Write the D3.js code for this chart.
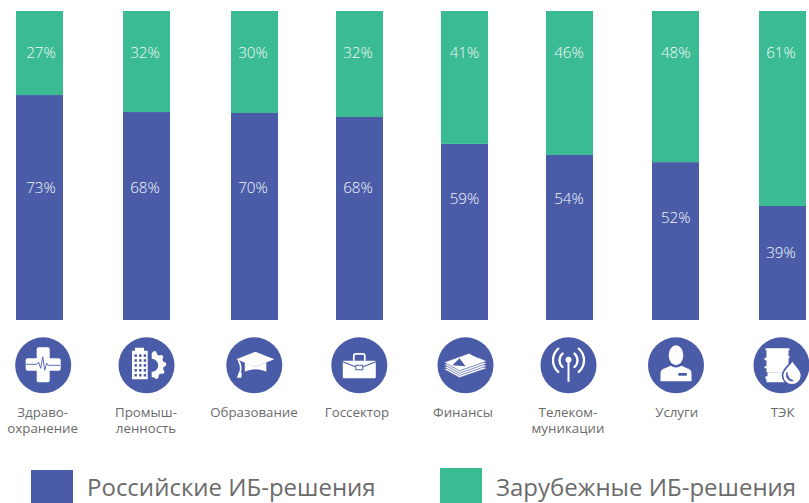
<!DOCTYPE html>
<html lang="ru">
<head>
<meta charset="utf-8">
<script src="https://cdn.jsdelivr.net/npm/d3@7"></script>
<style>
html,body{margin:0;padding:0;background:#fff}
svg{display:block;font-family:"Open Sans",sans-serif}
</style>
</head>
<body>
<svg id="c" width="809" height="503"></svg>
<script>
// Categories (each line of the wrapped label)
const categories = ["health","industry","education","gov","finance","telecom","services","energy"];
const categoryLines = [["Здраво-","охранение"],["Промыш-","ленность"],["Образование"],["Госсектор"],["Финансы"],["Телеком-","муникации"],["Услуги"],["ТЭК"]];
// Bar heights as drawn in the picture (share of the bar, %)
const russianHeights = [72.8,67.3,67.0,65.7,57.0,53.4,51.1,36.9];
const foreignHeights = [27.2,32.7,33.0,34.3,43.0,46.6,48.9,63.1];
// Printed values
const russianLabels = [73,68,70,68,59,54,52,39];
const foreignLabels = [27,32,30,32,41,46,48,61];
const seriesNames = ["Российские ИБ-решения","Зарубежные ИБ-решения"];

const BLUE="#4a5ca8", GREEN="#3bbb93", TEXT="#6b6b6b", W="#ffffff";

// Layout scales
const barLeft = d3.scaleOrdinal().domain(categories).range([16,123,231,336,441,546,652,759]);
const barW = 47;
const valueX = d3.scaleOrdinal().domain(categories).range([41,145,253,358,464.5,569,675.7,781]);
const russianLabelY = d3.scaleOrdinal().domain(categories).range([187,187,187,187,198,198,217,252]);
const foreignLabelY = 51.5;
const iconX = d3.scaleOrdinal().domain(categories).range([43.2,146.5,254.3,359.3,465.5,568.5,676,781.5]);
const iconY = 365.3, iconR = 28;
const nameX = d3.scaleOrdinal().domain(categories).range([42.7,146,254,357,463,568,676.7,782.7]);
const y = d3.scaleLinear().domain([0,100]).range([320,11]);

const svg = d3.select("#c");
const rows = categories.map((c,i)=>({c,ru:russianHeights[i],fo:foreignHeights[i]}));
const stacked = d3.stack().keys(["ru","fo"])(rows);
const color = d3.scaleOrdinal().domain(["ru","fo"]).range([BLUE,GREEN]);

svg.append("g").selectAll("g").data(stacked).join("g").attr("fill",d=>color(d.key))
  .selectAll("rect").data(d=>d).join("rect")
  .attr("x",d=>barLeft(d.data.c)).attr("width",barW)
  .attr("y",d=>y(d[1])).attr("height",d=>y(d[0])-y(d[1]));

const valText = (sel)=>sel.attr("text-anchor","middle").attr("dominant-baseline","central")
  .attr("font-size",15.2).attr("font-weight",300).attr("fill","#f4f8fa");
svg.append("g").selectAll("text").data(categories).join("text").call(valText)
  .attr("x",c=>valueX(c)).attr("y",c=>russianLabelY(c))
  .text((c,i)=>russianLabels[i]+"%");
svg.append("g").selectAll("text").data(categories).join("text").call(valText)
  .attr("x",c=>valueX(c)).attr("y",foreignLabelY)
  .text((c,i)=>foreignLabels[i]+"%");

// Category names
const nm = svg.append("g").attr("fill",TEXT).attr("font-size",13.3).attr("text-anchor","middle")
  .selectAll("text").data(categories).join("text").attr("y",417);
nm.selectAll("tspan").data((c,i)=>categoryLines[i].map(t=>({t,c}))).join("tspan")
  .attr("x",d=>nameX(d.c)).attr("dy",(d,i)=>i?16:0).text(d=>d.t);

// Icons, drawn around the circle centre
function gearPath(r,ri,teeth){
  let p=[];
  const n=teeth*4;
  for(let k=0;k<=n;k++){
    const a=-Math.PI/2+Math.PI*k/n;
    const rr=(k%4===1||k%4===2)?r:ri;
    p.push([rr*Math.cos(a),rr*Math.sin(a)]);
  }
  return p;
}
const icons = {
  health(g){
    g.append("rect").attr("x",-6.5).attr("y",-18).attr("width",13).attr("height",35).attr("rx",2).attr("fill",W);
    g.append("rect").attr("x",-17.5).attr("y",-7).attr("width",35).attr("height",12.5).attr("rx",2).attr("fill",W);
    g.append("path").attr("d","M-17,-1H-6.5L-4.5,-3L-2.5,3L-0.5,-8.5L1.5,5L3.5,-2L5,0H6.5H17").attr("fill","none").attr("stroke",BLUE).attr("stroke-width",0.9);
  },
  industry(g){
    g.append("path").attr("d","M-14.5,14V-14.5H-11.5V-17.5H-2.5V-14.5H1.2V14Z").attr("fill",W);
    for(let r=0;r<5;r++)for(let c=0;c<3;c++)
      g.append("rect").attr("x",-12+c*4.6).attr("y",-11+r*4.9).attr("width",2.4).attr("height",2.6).attr("fill",BLUE);
    const pts=gearPath(14.5,12,5);
    g.append("path").attr("d",d3.line()(pts)+"L0,6.5A6.5,6.5 0 0 0 0,-6.5Z").attr("transform","translate(5.2,0)").attr("fill",W);
  },
  education(g){
    g.append("path").attr("d","M-9.5,-3V6.5C-3,3 6,3 12,6.5V-3L1,1.5Z").attr("fill",W);
    g.append("path").attr("d","M-18,-6L1,-13.5L20,-6L1,1.5Z").attr("fill",W);
    g.append("path").attr("d","M-16,-5C-14,-2 -13,2 -14,7").attr("fill","none").attr("stroke",W).attr("stroke-width",1.6);
    g.append("path").attr("d","M-15,6L-12.5,8L-13,12.5L-17.5,12.5Z").attr("fill",W);
  },
  gov(g){
    g.append("rect").attr("x",-16.5).attr("y",-4.5).attr("width",33).attr("height",17.5).attr("rx",1).attr("fill",W);
    g.append("path").attr("d","M-5.5,-4.5V-9.5Q-5.5,-11.5 -3.5,-11.5H3.5Q5.5,-11.5 5.5,-9.5V-4.5").attr("fill","none").attr("stroke",W).attr("stroke-width",1.8);
    g.append("path").attr("d","M-16.5,-3.5L-4,1.5M16.5,-3.5L4,1.5").attr("stroke",BLUE).attr("stroke-width",1.1);
    g.append("rect").attr("x",-3.5).attr("y",0).attr("width",7).attr("height",4.5).attr("fill",W).attr("stroke",BLUE).attr("stroke-width",1);
  },
  finance(g){
    [6.9,4.6,2.3,0].forEach(d=>{
      g.append("path").attr("d",`M-21.5,${-3+d}L3.5,${-12+d}L21.5,${-4+d}L-6,${5.5+d}Z`)
        .attr("fill",W).attr("stroke",BLUE).attr("stroke-width",0.7);
    });
    g.append("path").attr("d","M-13,0L-6,-7L0,1Z").attr("fill",BLUE);
    g.append("path").attr("d","M5,-11L11,-12L13,-7Z").attr("fill",BLUE);
  },
  telecom(g){
    g.append("line").attr("y1",-6).attr("y2",16.5).attr("stroke",W).attr("stroke-width",2);
    g.append("circle").attr("cy",-5.5).attr("r",3).attr("fill",W);
    const arc=(r,s)=>{const a=0.85;return `M${s*r*Math.cos(a)},${-5-r*Math.sin(a)}A${r},${r} 0 0 ${s>0?1:0} ${s*r*Math.cos(a)},${-5+r*Math.sin(a)}`;};
    [-1,1].forEach(s=>{
      g.append("path").attr("d",arc(9,s)).attr("fill","none").attr("stroke",W).attr("stroke-width",2.3).attr("stroke-linecap","round");
      g.append("path").attr("d",arc(15.5,s)).attr("fill","none").attr("stroke",W).attr("stroke-width",2.3).attr("stroke-linecap","round");
    });
  },
  services(g){
    g.append("ellipse").attr("cy",-10).attr("rx",7.3).attr("ry",10).attr("fill",W);
    g.append("path").attr("d","M-15.5,16V8Q-15.5,4 -11,3L-5.5,0.5Q0,4 5.5,0.5L11,3Q15.5,4 15.5,8V16Z").attr("fill",W);
    g.append("rect").attr("x",2.3).attr("y",7.7).attr("width",8.5).attr("height",2.7).attr("fill",BLUE);
  },
  energy(g){
    g.append("path").attr("d","M-16,-17H8V-15H7V-9H8V-7H7V7H-15V3H-17V1H-15V-5H-17V-7.5H-15V-15H-16Z").attr("fill",W);
    g.append("path").attr("d","M-16,14V11H-14V7H4V17H-15V14Z").attr("fill",W);
    g.append("path").attr("d","M11,-5C13,0 20,4 20,10A9.5,9.5 0 0 1 1,10C1,4 8,0 11,-5Z").attr("fill",W).attr("stroke",BLUE).attr("stroke-width",1.6);
    g.append("path").attr("d","M5.5,7C3.5,12 7,16.5 12,15.5C8,14.5 6,11 5.5,7Z").attr("fill",BLUE).attr("stroke",BLUE).attr("stroke-width",0.8);
  }
};
const iconG = svg.append("g").selectAll("g").data(categories).join("g")
  .attr("transform",c=>`translate(${iconX(c)},${iconY})`);
iconG.append("circle").attr("r",iconR).attr("fill",BLUE);
iconG.each(function(c){icons[c](d3.select(this));});

// Legend
const legendX = d3.scaleOrdinal().domain(seriesNames).range([31,440]);
const legendTop = d3.scaleOrdinal().domain(seriesNames).range([470,468]);
const lg = svg.append("g").selectAll("g").data(seriesNames).join("g");
lg.append("rect").attr("x",d=>legendX(d)).attr("y",d=>legendTop(d)).attr("width",42)
  .attr("height",d=>503-legendTop(d)).attr("fill",(d,i)=>i?GREEN:BLUE);
lg.append("text").attr("x",d=>legendX(d)+56).attr("y",496).attr("font-size",24).attr("fill",TEXT).text(d=>d);
</script>
</body>
</html>
